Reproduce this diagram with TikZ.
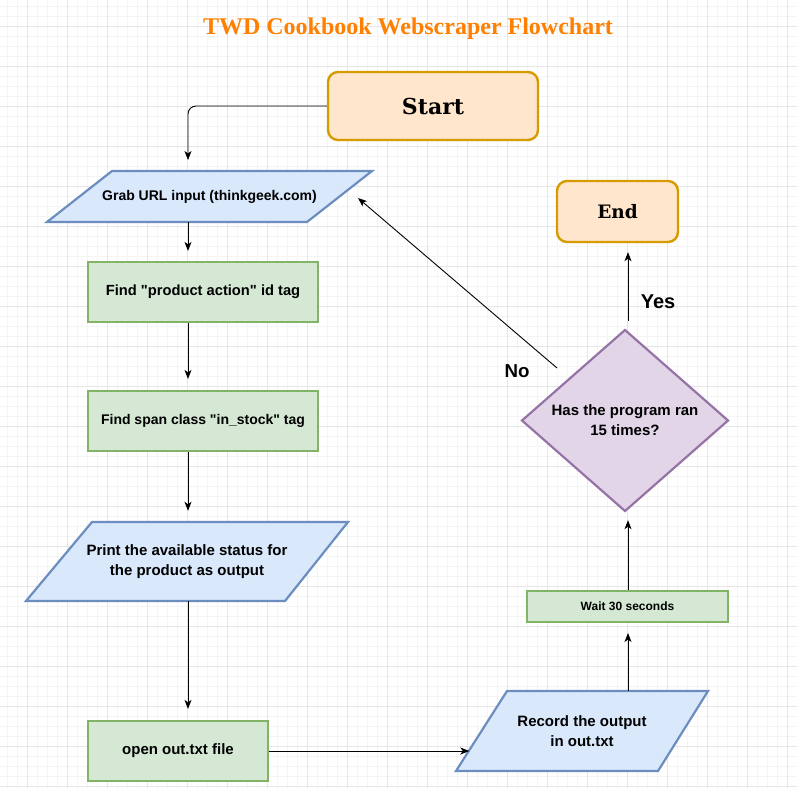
\documentclass[tikz,border=0pt]{standalone}
\usepackage{fontspec}
\setmainfont{Liberation Sans}[Ligatures=TeXOff]
\newfontfamily\titlefont{Liberation Serif}
\newfontfamily\djserif{DejaVu Serif}
\usetikzlibrary{arrows.meta,calc}
\definecolor{titleorange}{HTML}{FF8000}
\definecolor{startfill}{HTML}{FFE6CC}
\definecolor{startdraw}{HTML}{D79B00}
\definecolor{bluefill}{HTML}{DAE8FC}
\definecolor{bluedraw}{HTML}{6C8EBF}
\definecolor{greenfill}{HTML}{D5E8D4}
\definecolor{greendraw}{HTML}{82B366}
\definecolor{purplefill}{HTML}{E1D5E7}
\definecolor{purpledraw}{HTML}{9673A6}
\definecolor{gridminor}{HTML}{F4F4F4}
\definecolor{gridmajor}{HTML}{E6E6E6}
\tikzset{
  minorline/.style={draw=gridminor, line width=0.8pt},
  majorline/.style={draw=gridmajor, line width=0.9pt},
  termbox/.style={draw=startdraw, fill=startfill, line width=2.4pt, rounded corners=10pt},
  procbox/.style={draw=greendraw, fill=greenfill, line width=2.2pt, align=center},
  ioshape/.style={draw=bluedraw, fill=bluefill, line width=2.2pt, line join=miter},
  decshape/.style={draw=purpledraw, fill=purplefill, line width=2.2pt, line join=miter},
  txt/.style={align=center, inner sep=0pt},
  arr/.style={draw=black, line width=0.9pt, -{Stealth[length=9pt,width=7pt,inset=2.5pt]}},
  lbl/.style={inner sep=0pt}
}
\begin{document}
\begin{tikzpicture}[x=1pt,y=-1pt]
\useasboundingbox (0,0) rectangle (797,788);
\fill[white] (0,0) rectangle (797,788);
% grid
\foreach \i in {0,...,79} {
  \draw[minorline] (7+10*\i,0) -- (7+10*\i,788);
  \draw[minorline] (0,6+10*\i) -- (797,6+10*\i);
}
\foreach \i in {-1,...,19} {
  \draw[majorline] (27+40*\i,0) -- (27+40*\i,788);
  \draw[majorline] (0,26+40*\i) -- (797,26+40*\i);
}
% title
\node[font=\titlefont\bfseries\fontsize{24}{28}\selectfont, text=titleorange] (title) at (408,29) {TWD Cookbook Webscraper Flowchart};
% start / end
\node[termbox, minimum width=210pt, minimum height=68pt, font=\djserif\bfseries\fontsize{22}{26}\selectfont] (start) at (433,106) {Start};
\node[termbox, minimum width=121pt, minimum height=61pt, font=\djserif\bfseries\fontsize{18.5}{22}\selectfont] (end) at (617.5,211.5) {End};
% grab URL
\draw[ioshape] (112,171) -- (372,171) -- (307,222) -- (47,222) -- cycle;
\node[txt, minimum width=260pt, minimum height=51pt, font=\bfseries\fontsize{14}{17}\selectfont] (grab) at (209.5,196.5) {Grab URL input (thinkgeek.com)};
% find boxes
\node[procbox, minimum width=230pt, minimum height=60pt, font=\bfseries\fontsize{14.7}{18}\selectfont] (find1) at (203,292) {Find "product action" id tag};
\node[procbox, minimum width=230pt, minimum height=60pt, font=\bfseries\fontsize{14}{17}\selectfont] (find2) at (203,421) {Find span class "in\_stock" tag};
% print
\draw[ioshape] (92,522) -- (348,522) -- (285,601) -- (26,601) -- cycle;
\node[txt, minimum width=256pt, minimum height=79pt, font=\bfseries\fontsize{15}{20}\selectfont] (print) at (187,561.5) {Print the available status for\\the product as output};
% open
\node[procbox, minimum width=180pt, minimum height=60pt, font=\bfseries\fontsize{15}{18}\selectfont] (open) at (178,751) {open out.txt file};
% record
\draw[ioshape] (507,691) -- (708,691) -- (658,771) -- (456,771) -- cycle;
\node[txt, minimum width=201pt, minimum height=80pt, font=\bfseries\fontsize{15}{20}\selectfont] (record) at (582,731) {Record the output\\in out.txt};
% wait
\node[procbox, line width=2pt, minimum width=201pt, minimum height=31pt, font=\bfseries\fontsize{12}{14}\selectfont] (wait) at (627.5,606.5) {Wait 30 seconds};
% decision
\draw[decshape] (625,330) -- (728,420.5) -- (625,511) -- (522,420.5) -- cycle;
\node[txt, minimum width=206pt, minimum height=181pt, font=\bfseries\fontsize{15}{20}\selectfont] (dec) at (625,420.5) {Has the program ran\\15 times?};
% helper coordinates
\coordinate (spine) at (188,0);
\coordinate (startin) at (188,160);
\coordinate (noA) at (557,368);
\coordinate (noB) at (358,198);
\coordinate (waitx) at (628,0);
% connectors
\draw[arr, rounded corners=8pt] (start.west) -| (startin);
\draw[arr, shorten >=10pt] (grab.south -| spine) -- (find1.north -| spine);
\draw[arr, shorten >=11pt] (find1.south -| spine) -- (find2.north -| spine);
\draw[arr, shorten >=11pt] (find2.south -| spine) -- (print.north -| spine);
\draw[arr, shorten >=11pt] (print.south -| spine) -- (open.north -| spine);
\draw[arr, shorten >=12pt] (open.east) -- (open.east -| record.west);
\draw[arr, shorten >=10pt] (record.north -| waitx) -- (wait.south -| waitx);
\draw[arr, shorten >=9pt] (wait.north -| waitx) -- (dec.south -| waitx);
\draw[arr, shorten <=9pt, shorten >=9pt] (dec.north -| waitx) -- (end.south -| waitx);
\draw[arr] (noA) -- (noB);
% labels
\node[lbl, font=\bfseries\fontsize{20}{24}\selectfont] (yes) at (658,302) {Yes};
\node[lbl, font=\bfseries\fontsize{18.7}{22}\selectfont] (no) at (517,371) {No};
\end{tikzpicture}
\end{document}
